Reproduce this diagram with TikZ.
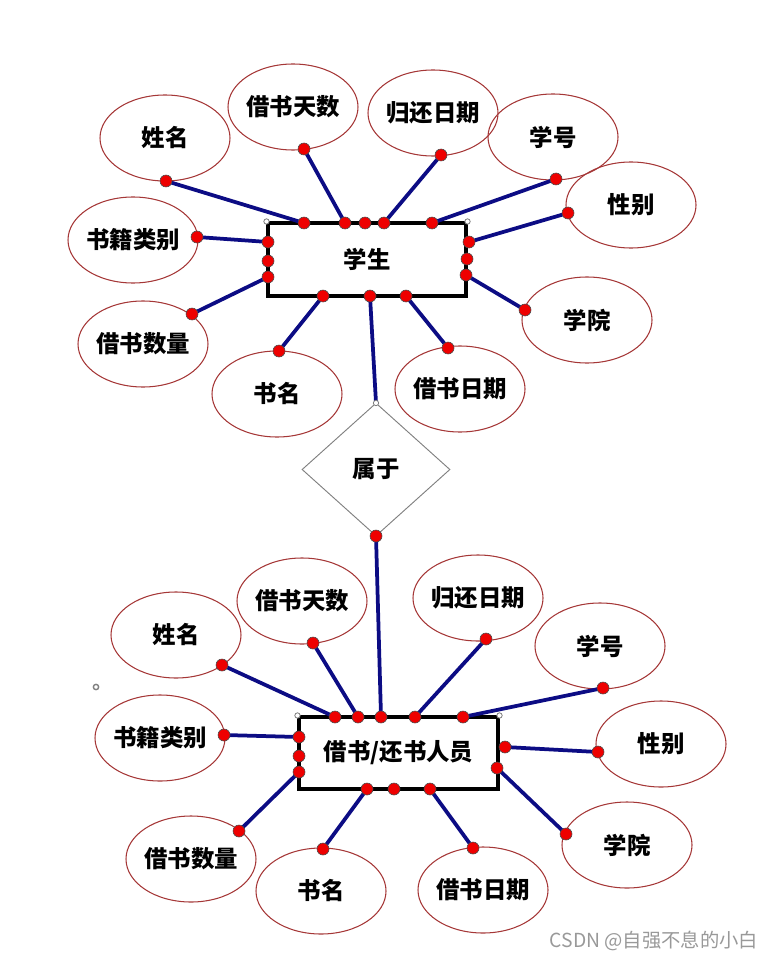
\documentclass[tikz,border=0pt]{standalone}
\usepackage{fontspec}
\setmainfont{Noto Sans CJK SC}
\usetikzlibrary{shapes.geometric}

\definecolor{linkblue}{RGB}{12,12,132}
\definecolor{attrred}{RGB}{165,55,55}
\definecolor{dotred}{RGB}{238,0,0}
\newcommand{\labelfont}{\bfseries\fontsize{20}{20}\selectfont}

\tikzset{
  attr/.style={ellipse,draw=attrred,line width=0.9pt,minimum width=3.9cm,minimum height=2.58cm,
               inner xsep=-3pt,inner ysep=0pt,font=\labelfont},
  entity/.style={rectangle,draw=black,line width=2.6pt,font=\labelfont},
  rel/.style={diamond,draw=gray,line width=0.8pt,minimum width=4.44cm,minimum height=3.99cm,inner sep=0pt,font=\labelfont},
  link/.style={draw=linkblue,line width=3.2pt},
  dot/.style={circle,fill=dotred,draw=black!70,line width=0.5pt,minimum size=0.36cm,inner sep=0pt},
  knob/.style={circle,fill=white,draw=gray,line width=0.7pt,minimum size=0.16cm,inner sep=0pt},
}

\begin{document}
\begin{tikzpicture}[x=0.03cm,y=-0.03cm]
    \useasboundingbox (0,0) rectangle (776,960);

    % student part
    \node[attr] (uname) at (165,138) {姓名};
    \node[attr] (udays) at (293,107) {借书天数};
    \node[attr] (uret)  at (433,113) {归还日期};
    \node[attr] (uno)   at (553,137) {学号};
    \node[attr] (usex)  at (631,205) {性别};
    \node[attr] (udept) at (587,320) {学院};
    \node[attr] (ucat)  at (133,240) {书籍类别};
    \node[attr] (ucnt)  at (143,344) {借书数量};
    \node[attr] (ubook) at (277,394) {书名};
    \node[attr] (udate) at (460,389) {借书日期};
    \node[entity,minimum width=5.94cm,minimum height=2.19cm] (stu) at (367,259.5) {学生};

    \node[rel] (rel) at (376,469.5) {属于};

    % borrower part
    \node[attr] (lname) at (176,635) {姓名};
    \node[attr] (ldays) at (302,601) {借书天数};
    \node[attr] (lret)  at (478,598) {归还日期};
    \node[attr] (lno)   at (600,646) {学号};
    \node[attr] (lsex)  at (661,744) {性别};
    \node[attr] (ldept) at (627,845) {学院};
    \node[attr] (lcat)  at (160,738) {书籍类别};
    \node[attr] (lcnt)  at (191,859) {借书数量};
    \node[attr] (lbook) at (321,891) {书名};
    \node[attr] (ldate) at (483,890) {借书日期};
    \node[entity,minimum width=5.97cm,minimum height=2.16cm] (bor) at (398.5,753) {借书/还书人员};

    % connection points
    \coordinate (un) at (166,181);  \coordinate (ud) at (304,149);
    \coordinate (ur) at (441,155);  \coordinate (uo) at (556,179);
    \coordinate (us) at (568,213);  \coordinate (ue) at (525,310);
    \coordinate (uc) at (197,237);  \coordinate (uq) at (192,314);
    \coordinate (ub) at (279,351);  \coordinate (ut) at (448,348);

    \coordinate (st1) at (304,223); \coordinate (st2) at (345,223);
    \coordinate (st3) at (365,223); \coordinate (st4) at (384,223);
    \coordinate (st5) at (432,223);
    \coordinate (sl1) at (268,242); \coordinate (sl2) at (268,261);
    \coordinate (sl3) at (268,277);
    \coordinate (sr1) at (469,242); \coordinate (sr2) at (467,259);
    \coordinate (sr3) at (466,275);
    \coordinate (sb1) at (323,296); \coordinate (sb2) at (370,296);
    \coordinate (sb3) at (406,296);

    \coordinate (rtop) at (376,403); \coordinate (rbot) at (376,536);

    \coordinate (ln) at (222,665);  \coordinate (ld) at (313,643);
    \coordinate (lr) at (486,639);  \coordinate (lo) at (603,688);
    \coordinate (ls) at (598,752);  \coordinate (le) at (566,834);
    \coordinate (lc) at (224,735);  \coordinate (lq) at (239,831);
    \coordinate (lb) at (323,849);  \coordinate (lt) at (473,848);

    \coordinate (bt1) at (335,717); \coordinate (bt2) at (358,717);
    \coordinate (bt3) at (381,717); \coordinate (bt4) at (415,717);
    \coordinate (bt5) at (463,717);
    \coordinate (bl1) at (299,737); \coordinate (bl2) at (299,756);
    \coordinate (bl3) at (299,772);
    \coordinate (br1) at (505,747); \coordinate (br2) at (497,768);
    \coordinate (bb1) at (367,789); \coordinate (bb2) at (394,789);
    \coordinate (bb3) at (430,789);

    % links
    \draw[link] (un) -- (st1);  \draw[link] (ud) -- (st2);
    \draw[link] (ur) -- (st4);  \draw[link] (uo) -- (st5);
    \draw[link] (uc) -- (sl1);  \draw[link] (uq) -- (sl3);
    \draw[link] (us) -- (sr1);  \draw[link] (ue) -- (sr3);
    \draw[link] (ub) -- (sb1);  \draw[link] (ut) -- (sb3);
    \draw[link] (sb2) -- (rtop);
    \draw[link] (rbot) -- (bt3);
    \draw[link] (ln) -- (bt1);  \draw[link] (ld) -- (bt2);
    \draw[link] (lr) -- (bt4);  \draw[link] (lo) -- (bt5);
    \draw[link] (lc) -- (bl1);  \draw[link] (lq) -- (bl3);
    \draw[link] (ls) -- (br1);  \draw[link] (le) -- (br2);
    \draw[link] (lb) -- (bb1);  \draw[link] (lt) -- (bb3);

    % dots
    \foreach \p in {un,ud,ur,uo,us,ue,uc,uq,ub,ut,
                    st1,st2,st3,st4,st5,sl1,sl2,sl3,sr1,sr2,sr3,sb1,sb2,sb3,rbot,
                    ln,ld,lr,lo,ls,le,lc,lq,lb,lt,
                    bt1,bt2,bt3,bt4,bt5,bl1,bl2,bl3,br1,br2,bb1,bb2,bb3}
        \node[dot] (d-\p) at (\p) {};

    \node[knob] (k1) at (stu.north west) {};
    \node[knob] (k2) at (stu.north east) {};
    \node[knob] (k3) at (bor.north west) {};
    \node[knob] (k4) at (bor.north east) {};
    \node[knob] (k5) at (rtop) {};
    \node[knob,line width=1.2pt] (k6) at (96,687) {};

    \node[text=black!40,font=\fontsize{16.5}{17}\selectfont] (mark) at (654,941) {CSDN @自强不息的小白};
\end{tikzpicture}
\end{document}
